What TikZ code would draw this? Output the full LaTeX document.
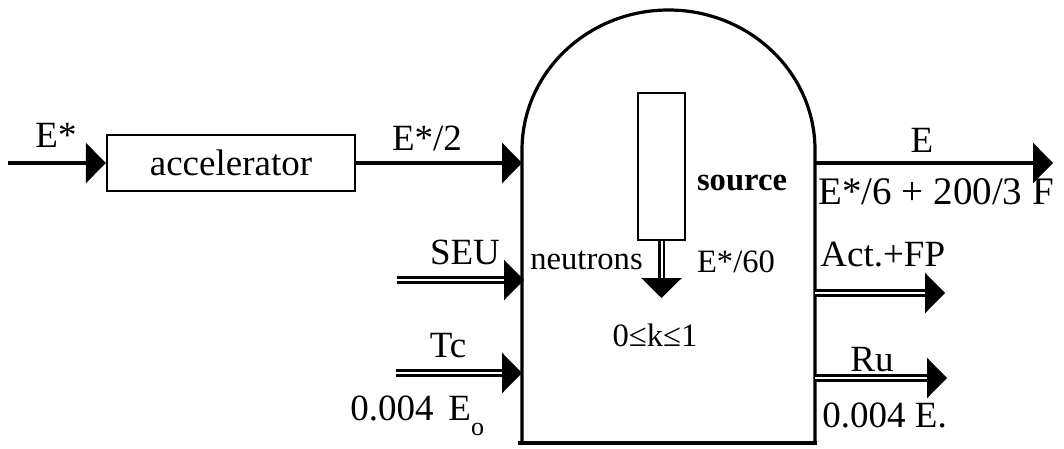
\documentclass[tikz,border=0pt]{standalone}
\usepackage{fontspec}
\setmainfont{Liberation Serif}
\usetikzlibrary{arrows.meta, positioning}

\tikzset{
  lbl/.style={inner sep=0pt, font=\fontsize{18.5}{20}\selectfont},
  inlbl/.style={inner sep=0pt, font=\fontsize{16.3}{18}\selectfont},
  flow/.style={line width=1.6pt, -{Triangle[length=10pt, width=20pt]}},
  dflow/.style={double, line width=1.3pt, double distance=1pt,
                -{Triangle[length=10pt, width=20pt]}},
}

\begin{document}
\begin{tikzpicture}[x=0.5pt, y=-0.5pt]
  \useasboundingbox (0,0) rectangle (1064,449);

  % vessel
  \draw[line width=1.6pt, line join=miter]
    (522,443) -- (522,150) arc[start angle=180, end angle=360, x radius=146.5, y radius=140]
    -- (815,443);
  \draw[line width=1.6pt] (518,443) -- (817,443);

  % ports on the vessel wall
  \coordinate (pin1) at (522,163);
  \coordinate (pin2) at (524,280);
  \coordinate (pin3) at (522,373);
  \coordinate (pout1) at (815,163);
  \coordinate (pout2) at (815,293);
  \coordinate (pout3) at (815,378);
  \coordinate (ein) at (8,163);
  \coordinate (seuin) at (397,280);
  \coordinate (tcin) at (396,373);
  \coordinate (eout) at (1053,163);
  \coordinate (actout) at (945,293);
  \coordinate (ruout) at (947,378);

  % accelerator
  \node[draw, line width=1.2pt, lbl, minimum width=124pt, minimum height=28pt]
    (accel) at (231,163) {accelerator};
  \node[lbl] (einlbl) at (56,135) {E*};
  \node[lbl] (ehalf) at (427,138) {E*/2};
  \draw[flow] (ein) -- (accel.west);
  \draw[flow] (accel.east) -- (pin1);

  % inputs below
  \node[lbl] (seulbl) at (465,252) {SEU};
  \draw[dflow] (seuin) -- (pin2);
  \node[lbl] (tclbl) at (448,346) {Tc};
  \draw[dflow] (tcin) -- (pin3);
  \node[lbl, anchor=base west] (tcval) at (350,420)
    {0.004\hspace{0.4em}E\raisebox{-7.5pt}{\fontsize{13}{14}\selectfont o}};

  % source inside the vessel
  \node[draw, line width=1.1pt, minimum width=23.5pt, minimum height=73.5pt, inner sep=0pt]
    (src) at (661.5,166.5) {};
  \coordinate (srcout) at (661.5,298);
  \draw[dflow] (src.south) -- (srcout);
  \node[inlbl, font=\fontsize{16.3}{18}\selectfont\bfseries] (srclbl) at (742,183) {source};
  \node[inlbl] (srcpow) at (736,262) {E*/60};
  \node[inlbl, anchor=west] (neut) at (530,260) {neutrons};
  \node[inlbl] (kval) at (655,335) {0≤k≤1};

  % outputs
  \draw[flow] (pout1) -- (eout);
  \node[lbl] (elbl) at (922,140) {E};
  \node[lbl, anchor=west, font=\fontsize{19.5}{21}\selectfont] (eval) at (818,192) {E*/6 + 200/3 F};
  \node[lbl, anchor=west] (actlbl) at (820,255) {Act.+FP};
  \draw[dflow] (pout2) -- (actout);
  \node[lbl] (rulbl) at (872,360) {Ru};
  \draw[dflow] (pout3) -- (ruout);
  \node[lbl, anchor=west] (ruval) at (822,415) {0.004 E.};
\end{tikzpicture}
\end{document}
